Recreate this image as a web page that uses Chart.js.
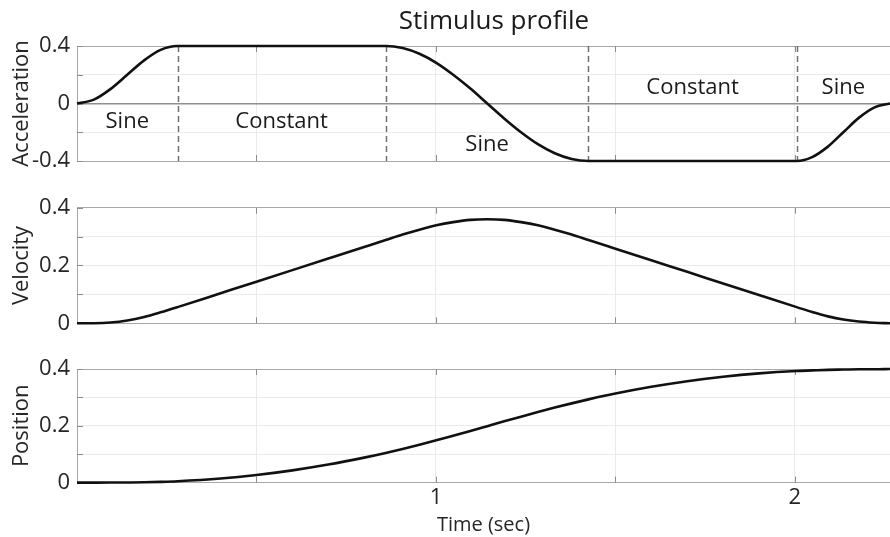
<!DOCTYPE html>
<html>
<head>
<meta charset="utf-8">
<title>Stimulus profile</title>
<script src="https://cdn.jsdelivr.net/npm/chart.js@4.4.0/dist/chart.umd.min.js"></script>
<style>
  html, body { margin: 0; padding: 0; background: #fff; }
  #wrap { position: relative; width: 890px; height: 537px; overflow: hidden; background: #fff; }
  .panel { position: absolute; left: 0; width: 890px; }
  .panel canvas { display: block; }
</style>
</head>
<body>
<div id="wrap">
  <div class="panel" style="top:0;height:180px"><canvas id="accelChart" width="890" height="180"></canvas></div>
  <div class="panel" style="top:180px;height:160px"><canvas id="velChart" width="890" height="160"></canvas></div>
  <div class="panel" style="top:340px;height:197px"><canvas id="posChart" width="890" height="197"></canvas></div>
</div>
<script>
// time samples (sec)
const time = [0, 0.047, 0.093, 0.14, 0.187, 0.233, 0.28,
    0.4, 0.5, 0.6, 0.7, 0.8, 0.86,
    0.907, 0.954, 1.001, 1.048, 1.096, 1.143, 1.19, 1.237, 1.284, 1.331, 1.378, 1.425,
    1.5, 1.6, 1.7, 1.8, 1.9, 2.005,
    2.048, 2.092, 2.135, 2.178, 2.222, 2.265];

const acceleration = [0, 0.027, 0.1, 0.2, 0.3, 0.373, 0.4,
    0.4, 0.4, 0.4, 0.4, 0.4, 0.4,
    0.386, 0.346, 0.283, 0.2, 0.104, 0, -0.104, -0.2, -0.283, -0.346, -0.386, -0.4,
    -0.4, -0.4, -0.4, -0.4, -0.4, -0.4,
    -0.373, -0.3, -0.2, -0.1, -0.027, 0];

const velocity = [0, 0.0004, 0.003, 0.010, 0.022, 0.038, 0.056,
    0.104, 0.144, 0.184, 0.224, 0.264, 0.288,
    0.307, 0.324, 0.339, 0.350, 0.358, 0.360, 0.358, 0.350, 0.339, 0.324, 0.307, 0.288,
    0.258, 0.218, 0.178, 0.138, 0.098, 0.056,
    0.039, 0.024, 0.013, 0.006, 0.002, 0];

const position = [0, 0, 0.0001, 0.0004, 0.001, 0.0025, 0.0047,
    0.0143, 0.0267, 0.0431, 0.0635, 0.0879, 0.1044,
    0.1184, 0.1333, 0.1489, 0.1651, 0.1818, 0.1987, 0.2156, 0.2323, 0.2486, 0.2642, 0.2790, 0.2930,
    0.3135, 0.3373, 0.3571, 0.3729, 0.3847, 0.393,
    0.395, 0.397, 0.398, 0.399, 0.399, 0.4];

// stimulus phases
const phaseNames = ["Sine", "Constant", "Sine", "Constant", "Sine"];
const phaseEdges = [0, 0.28, 0.86, 1.425, 2.005, 2.265];

const xTickLabels = [1, 2];
const accelTickLabels = [-0.4, 0, 0.4];
const motionTickLabels = [0, 0.2, 0.4];

const FONT = '"Open Sans", "DejaVu Sans", sans-serif';
const TEXT = "#262626";
const FRAME = "#a8a8a8";
const GRID = "#ebebeb";

function toPoints(ys) {
    return time.map((t, i) => ({ x: t, y: ys[i] }));
}

function near(a, b) { return Math.abs(a - b) < 1e-6; }

function fmt(v) {
    const r = Math.round(v * 10) / 10;
    return r === 0 ? "0" : r.toFixed(1);
}

// MATLAB-like ticks pointing into the box
const innerTicks = {
    id: "innerTicks",
    beforeDatasetsDraw(chart) {
        const { ctx, chartArea: a, scales: { x, y } } = chart;
        ctx.save();
        ctx.strokeStyle = "#8c8c8c";
        ctx.lineWidth = 1;
        ctx.beginPath();
        x.ticks.forEach(t => {
            if (near(t.value, 0)) return;
            const px = Math.round(x.getPixelForValue(t.value)) + 0.5;
            ctx.moveTo(px, a.bottom); ctx.lineTo(px, a.bottom - 6);
            ctx.moveTo(px, a.top); ctx.lineTo(px, a.top + 6);
        });
        y.ticks.forEach(t => {
            const py = Math.round(y.getPixelForValue(t.value)) + 0.5;
            ctx.moveTo(a.left, py); ctx.lineTo(a.left + 6, py);
        });
        ctx.stroke();
        ctx.restore();
    }
};

// dashed phase boundaries + phase names (top panel only)
const phasePlugin = {
    id: "phases",
    beforeDatasetsDraw(chart) {
        const { ctx, chartArea: a, scales: { x, y } } = chart;
        ctx.save();
        ctx.strokeStyle = "#707070";
        ctx.lineWidth = 1.5;
        ctx.setLineDash([6, 4]);
        phaseEdges.slice(1, -1).forEach(t => {
            const px = Math.round(x.getPixelForValue(t)) + 0.5;
            ctx.beginPath();
            ctx.moveTo(px, a.top);
            ctx.lineTo(px, a.bottom);
            ctx.stroke();
        });
        ctx.setLineDash([]);
        const levels = [-0.13, -0.13, -0.29, 0.11, 0.11];
        ctx.fillStyle = "#1a1a1a";
        ctx.font = "22px " + FONT;
        ctx.textAlign = "center";
        ctx.textBaseline = "middle";
        phaseNames.forEach((name, i) => {
            const mid = (phaseEdges[i] + phaseEdges[i + 1]) / 2;
            ctx.fillText(name, x.getPixelForValue(mid), y.getPixelForValue(levels[i]));
        });
        ctx.restore();
    }
};

const titlePlugin = {
    id: "figTitle",
    afterDraw(chart) {
        const { ctx } = chart;
        ctx.save();
        ctx.fillStyle = "#1a1a1a";
        ctx.font = "26px " + FONT;
        ctx.textAlign = "center";
        ctx.textBaseline = "middle";
        ctx.fillText("Stimulus profile", 494, 22);
        ctx.restore();
    }
};

function buildChart(id, cfg) {
    const isAccel = cfg.yMin < 0;
    const shown = isAccel ? accelTickLabels : motionTickLabels;
    return new Chart(document.getElementById(id), {
        type: "line",
        data: {
            datasets: [{
                data: toPoints(cfg.values),
                borderColor: "#111111",
                borderWidth: 2.6,
                pointRadius: 0,
                cubicInterpolationMode: "monotone",
                clip: false
            }]
        },
        options: {
            responsive: false,
            animation: false,
            devicePixelRatio: 1,
            events: [],
            layout: { padding: { top: cfg.padTop, bottom: cfg.padBottom, left: 0, right: 0 } },
            plugins: { legend: { display: false }, tooltip: { enabled: false }, title: { display: false } },
            scales: {
                x: {
                    type: "linear",
                    min: 0,
                    max: phaseEdges[phaseEdges.length - 1],
                    grid: {
                        drawTicks: false,
                        color: c => near(c.tick.value, 0) ? "rgba(0,0,0,0)" : GRID
                    },
                    border: { display: true, color: FRAME, width: 1 },
                    ticks: {
                        display: cfg.showX,
                        stepSize: 0.5,
                        autoSkip: false,
                        includeBounds: false,
                        maxRotation: 0,
                        padding: 2,
                        color: TEXT,
                        font: { family: FONT, size: 22 },
                        callback: v => xTickLabels.some(l => near(l, v)) ? String(Math.round(v)) : ""
                    },
                    title: {
                        display: cfg.showX,
                        text: "Time (sec)",
                        color: TEXT,
                        font: { family: FONT, size: 20 },
                        padding: { top: 0, bottom: 0 }
                    },
                    afterFit: s => {
                        if (!cfg.showX) s.height = 0;
                        s.paddingLeft = 0;
                        s.paddingRight = 0;
                    }
                },
                y: {
                    min: cfg.yMin,
                    max: 0.4,
                    grid: {
                        drawTicks: false,
                        color: c => {
                            const v = c.tick.value;
                            if (near(v, 0.4)) return FRAME;
                            if (isAccel && near(v, 0)) return "#8f8f8f";
                            return GRID;
                        },
                        lineWidth: c => (isAccel && near(c.tick.value, 0)) ? 1.6 : 1
                    },
                    border: { display: true, color: FRAME, width: 1 },
                    ticks: {
                        stepSize: cfg.step,
                        autoSkip: false,
                        padding: 7,
                        color: TEXT,
                        font: { family: FONT, size: 22 },
                        callback: v => shown.some(l => near(l, v)) ? fmt(v) : ""
                    },
                    title: {
                        display: true,
                        text: cfg.label,
                        color: TEXT,
                        font: { family: FONT, size: 22 },
                        padding: { top: 9, bottom: 0 }
                    },
                    afterFit: s => {
                        s.width = 77;
                        s.paddingTop = 0;
                        s.paddingBottom = 0;
                    }
                }
            }
        },
        plugins: cfg.plugins
    });
}

function build() {
    buildChart("accelChart", {
        values: acceleration, label: "Acceleration", yMin: -0.4, step: 0.2,
        padTop: 46, padBottom: 19, showX: false,
        plugins: [innerTicks, phasePlugin, titlePlugin]
    });
    buildChart("velChart", {
        values: velocity, label: "Velocity", yMin: 0, step: 0.1,
        padTop: 27.7, padBottom: 16.7, showX: false,
        plugins: [innerTicks]
    });
    buildChart("posChart", {
        values: position, label: "Position", yMin: 0, step: 0.1,
        padTop: 29, padBottom: 0, showX: true,
        plugins: [innerTicks]
    });
}

if (document.fonts && document.fonts.load) {
    Promise.all([
        document.fonts.load('22px "Open Sans"'),
        document.fonts.load('26px "Open Sans"')
    ]).then(build, build);
} else {
    build();
}
</script>
</body>
</html>
